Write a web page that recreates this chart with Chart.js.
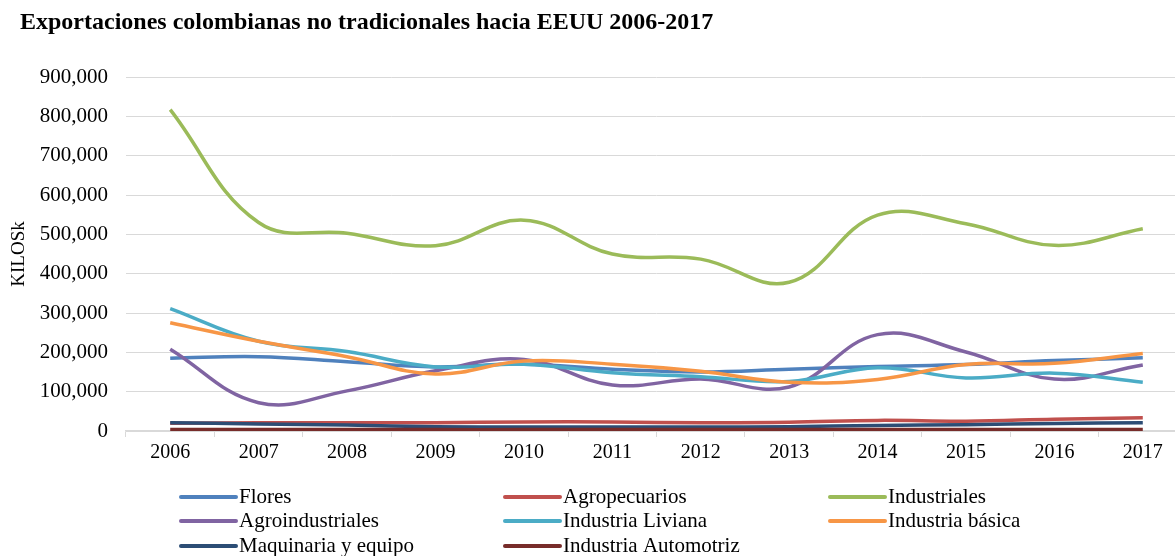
<!DOCTYPE html>
<html>
<head>
<meta charset="utf-8">
<script src="https://cdn.jsdelivr.net/npm/chart.js@4.4.1/dist/chart.umd.min.js"></script>
<style>
  html, body { margin: 0; padding: 0; background: #fff; overflow: hidden; }
</style>
</head>
<body>
<canvas id="chart1" width="1190" height="556"></canvas>
<script>
// Datos (kilos)
const years = ['2006', '2007', '2008', '2009', '2010', '2011', '2012', '2013', '2014', '2015', '2016', '2017'];
const flores = [185000, 189000, 176000, 163000, 170000, 157000, 150000, 157000, 164000, 169000, 179000, 186000];
const agropecuarios = [20000, 21000, 21000, 21000, 23000, 23000, 21000, 22000, 27000, 25000, 30000, 34000];
const industriales = [817000, 530000, 503000, 471000, 536000, 450000, 437000, 378000, 549000, 527000, 472000, 514000];
const agroindustriales = [208000, 72000, 102000, 153000, 182000, 117000, 132000, 112000, 245000, 201000, 132000, 168000];
const industriaLiviana = [311000, 228000, 202000, 163000, 170000, 148000, 138000, 126000, 161000, 135000, 147000, 124000];
const industriaBasica = [275000, 228000, 189000, 145000, 178000, 170000, 152000, 124000, 131000, 169000, 172000, 197000];
const maquinaria = [21000, 18000, 15000, 11000, 10000, 10000, 10000, 11000, 14000, 16000, 19000, 21000];
const automotriz = [4000, 4000, 4000, 3500, 3500, 3500, 3500, 3500, 3500, 3500, 3500, 3500];

const seriesNames = ['Flores', 'Agropecuarios', 'Industriales', 'Agroindustriales', 'Industria Liviana',
  'Industria básica', 'Maquinaria y equipo', 'Industria Automotriz'];
const seriesData = [flores, agropecuarios, industriales, agroindustriales, industriaLiviana,
  industriaBasica, maquinaria, automotriz];
const seriesColors = ['#4F81BD', '#C0504D', '#9BBB59', '#8064A2', '#4BACC6', '#F79646', '#2C4D75', '#772C2A'];

const titleText = 'Exportaciones colombianas no tradicionales hacia EEUU 2006-2017';
const serif = '"Liberation Serif", "Times New Roman", serif';

// Leyenda en 3 columnas (dibujada a mano)
const legendX = [181, 505, 830];
const legendY = [497, 521, 546];

const extras = {
  id: 'extras',
  afterDraw(chart) {
    const ctx = chart.ctx;
    ctx.save();
    ctx.fillStyle = '#000';
    ctx.textBaseline = 'middle';
    ctx.textAlign = 'left';
    ctx.font = 'bold 24px ' + serif;
    ctx.fillText(titleText, 20, 23);

    ctx.font = '21px ' + serif;
    seriesNames.forEach((name, i) => {
      const x = legendX[i % 3];
      const y = legendY[Math.floor(i / 3)];
      ctx.strokeStyle = seriesColors[i];
      ctx.lineWidth = 4;
      ctx.lineCap = 'round';
      ctx.beginPath();
      ctx.moveTo(x, y);
      ctx.lineTo(x + 55, y);
      ctx.stroke();
      ctx.fillText(name, x + 58, y);
    });
    ctx.restore();
  }
};

const datasets = seriesNames.map((name, i) => ({
  label: name,
  data: seriesData[i],
  borderColor: seriesColors[i],
  backgroundColor: seriesColors[i],
  borderWidth: 3.5,
  pointRadius: 0,
  tension: 0.4,
  fill: false,
  order: seriesNames.length - i // las últimas series quedan encima
}));

const ctx = document.getElementById('chart1').getContext('2d');
new Chart(ctx, {
  type: 'line',
  data: { labels: years, datasets: datasets },
  options: {
    responsive: false,
    animation: false,
    layout: { padding: { top: 77, right: 3, bottom: 0, left: 0 } },
    scales: {
      x: {
        offset: true,
        grid: {
          offset: true,
          drawOnChartArea: false,
          drawTicks: true,
          tickLength: 6,
          color: '#d9d9d9'
        },
        border: { display: true, color: '#d9d9d9', width: 1.5 },
        ticks: {
          color: '#000',
          padding: 4,
          maxRotation: 0,
          font: { family: serif, size: 20 }
        },
        afterFit: (scale) => { scale.height = 125; }
      },
      y: {
        min: 0,
        max: 900000,
        grid: { color: '#d9d9d9', lineWidth: 1, drawTicks: false },
        border: { display: false },
        ticks: {
          stepSize: 100000,
          color: '#000',
          padding: 18,
          font: { family: serif, size: 21 },
          callback: (v) => v.toLocaleString('en-US')
        },
        title: {
          display: true,
          text: 'KILOSk',
          color: '#000',
          padding: { top: 8, bottom: 0 },
          font: { family: serif, size: 19 }
        },
        afterFit: (scale) => { scale.width = 126; }
      }
    },
    plugins: {
      legend: { display: false },
      tooltip: { enabled: false },
      title: { display: false }
    }
  },
  plugins: [extras]
});
</script>
</body>
</html>
